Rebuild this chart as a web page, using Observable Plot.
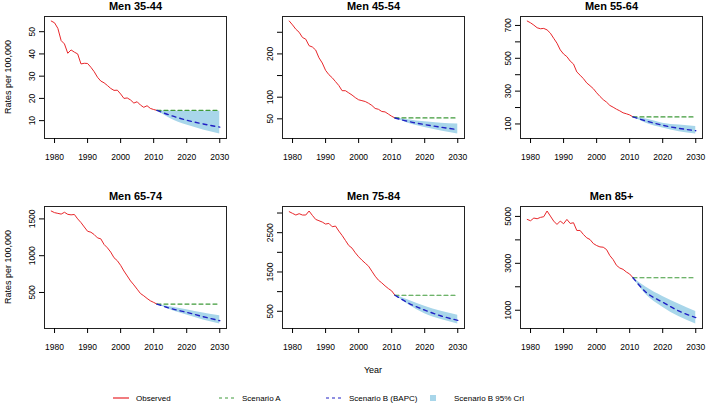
<!DOCTYPE html>
<html><head><meta charset="utf-8">
<script src="https://cdn.jsdelivr.net/npm/d3@7"></script>
<script src="https://cdn.jsdelivr.net/npm/@observablehq/plot@0.6"></script>
<style>
html,body{margin:0;padding:0;background:#fff;}
#root{position:relative;width:707px;height:408px;overflow:hidden;font-family:"Liberation Sans",Arial,Helvetica,sans-serif;color:#000;}
</style></head><body><div id="root"></div>
<script>
// ---------- data ----------
const titles = ["Men 35-44", "Men 45-54", "Men 55-64", "Men 65-74", "Men 75-84", "Men 85+"];
const obsYears = [1979,1980,1981,1982,1983,1984,1985,1986,1987,1988,1989,1990,1991,1992,1993,1994,1995,1996,1997,1998,1999,2000,2001,2002,2003,2004,2005,2006,2007,2008,2009,2010,2011];
const projYears = [2011, 2015, 2020, 2025, 2030];
const xTicks = [1980, 1990, 2000, 2010, 2020, 2030];
const legendLabels = ["Observed", "Scenario A", "Scenario B (BAPC)", "Scenario B 95% CrI"];

const obs3544 = [54.8,54.0,51.5,46.0,44.5,40.3,41.8,40.8,40.0,35.5,35.8,35.7,34.0,32.0,29.5,27.8,27.0,25.8,24.5,23.6,23.7,22.0,20.0,20.2,19.3,17.9,18.5,17.0,16.0,16.7,15.5,15.0,14.6];
const obs4554 = [276,267,257,250,238,234,219,216,209,191,179,162,152,145,136,127,115,115,110,105,99,94,92,90,86,81,74,72,67,66,61,56,52];
const obs5564 = [727,716,702,686,680,682,673,653,622,592,551,526,510,483,465,417,397,376,350,333,315,290,268,248,233,213,202,190,180,168,162,155,143];
const obs6574 = [1607,1585,1575,1565,1590,1562,1555,1560,1500,1450,1390,1332,1319,1287,1242,1229,1152,1107,1049,972,932,869,792,725,657,603,545,486,455,419,387,365,342];
const obs7584 = [3034,2991,2949,2983,2949,2949,3051,2940,2838,2804,2770,2719,2736,2651,2668,2541,2430,2303,2175,2107,1988,1886,1801,1724,1648,1520,1393,1291,1223,1146,1078,1019,908];
const obs85 = [4872,4815,4930,4901,4958,4987,5230,5015,4801,4658,4801,4687,4873,4701,4730,4401,4401,4230,4087,4015,3844,3758,3701,3687,3587,3329,3158,2915,2801,2743,2629,2543,2386];

const scenA = [14.6, 52, 143, 342, 908, 2386];

const mid3544 = [14.6, 12.4, 10.2, 8.5, 7.1];
const lo3544  = [14.6, 11.0, 8.0, 5.8, 4.0];
const hi3544  = [14.6, 14.3, 14.2, 14.2, 14.2];
const mid4554 = [52, 44, 36.7, 30.5, 25];
const lo4554  = [52, 40, 30, 22, 15];
const hi4554  = [52, 48, 43, 40, 38];
const mid5564 = [143, 118, 92, 73, 59];
const lo5564  = [143, 105, 75, 53, 39];
const hi5564  = [143, 130, 105, 93, 84];
const mid6574 = [342, 284, 230, 171, 117];
const lo6574  = [342, 265, 194, 125, 72];
const hi6574  = [342, 305, 266, 222, 185];
const mid7584 = [908, 712, 530, 380, 270];
const lo7584  = [908, 670, 440, 290, 177];
const hi7584  = [908, 790, 630, 500, 398];
const mid85   = [2386, 1760, 1343, 960, 686];
const lo85    = [2386, 1660, 1130, 720, 414];
const hi85    = [2386, 1980, 1586, 1250, 943];

const yTicks3544 = [10, 20, 30, 40, 50];   const yLabels3544 = [10, 20, 30, 40, 50];
const yTicks4554 = [50, 100, 150, 200, 250]; const yLabels4554 = [50, 100, 200];
const yTicks5564 = [100, 200, 300, 400, 500, 600, 700]; const yLabels5564 = [100, 300, 500, 700];
const yTicks6574 = [500, 1000, 1500];      const yLabels6574 = [500, 1000, 1500];
const yTicks7584 = [500, 1000, 1500, 2000, 2500, 3000]; const yLabels7584 = [500, 1500, 2500];
const yTicks85 = [1000, 2000, 3000, 4000, 5000]; const yLabels85 = [1000, 3000, 5000];

const panels = [
  {title: titles[0], obs: obs3544, a: scenA[0], mid: mid3544, lo: lo3544, hi: hi3544, yTicks: yTicks3544, yLabels: yLabels3544},
  {title: titles[1], obs: obs4554, a: scenA[1], mid: mid4554, lo: lo4554, hi: hi4554, yTicks: yTicks4554, yLabels: yLabels4554},
  {title: titles[2], obs: obs5564, a: scenA[2], mid: mid5564, lo: lo5564, hi: hi5564, yTicks: yTicks5564, yLabels: yLabels5564},
  {title: titles[3], obs: obs6574, a: scenA[3], mid: mid6574, lo: lo6574, hi: hi6574, yTicks: yTicks6574, yLabels: yLabels6574},
  {title: titles[4], obs: obs7584, a: scenA[4], mid: mid7584, lo: lo7584, hi: hi7584, yTicks: yTicks7584, yLabels: yLabels7584},
  {title: titles[5], obs: obs85,   a: scenA[5], mid: mid85,   lo: lo85,   hi: hi85,   yTicks: yTicks85,   yLabels: yLabels85}
];

// ---------- layout / style ----------
const root = document.getElementById("root");
const FONT = '"Liberation Sans", Arial, Helvetica, sans-serif';
const BOX_W = 182, BOX_H = 122, ML = 40, MR = 4, MT = 16, MB = 30;
const boxLeft = [44, 282, 520], boxTop = [16, 206];
const colors = {obs: "#e8262a", a: "#3f9a3a", b: "#2020c4", band: "#a8d6ea"};

panels.forEach((p, i) => {
  const col = i % 3, row = Math.floor(i / 3);
  const obsRows = obsYears.map((year, j) => ({year, v: p.obs[j]}));
  const projRows = projYears.map((year, j) => ({year, mid: p.mid[j], lo: p.lo[j], hi: p.hi[j]}));
  const aRows = [{year: projYears[0], v: p.a}, {year: projYears[projYears.length - 1], v: p.a}];
  const all = [...p.obs, ...p.lo, ...p.hi, p.a];
  const mn = d3.min(all), mx = d3.max(all), pad = 0.04 * (mx - mn);
  const x0 = obsYears[0], x1 = projYears[projYears.length - 1], xpad = 0.04 * (x1 - x0);
  const chart = Plot.plot({
    width: ML + BOX_W + MR, height: MT + BOX_H + MB,
    marginLeft: ML, marginRight: MR, marginTop: MT, marginBottom: MB,
    x: {domain: [x0 - xpad, x1 + xpad]},
    y: {domain: [mn - pad, mx + pad]},
    style: {fontFamily: FONT, fontSize: "8.5px", color: "#000", background: "transparent", overflow: "visible"},
    marks: [
      Plot.areaY(projRows, {x: "year", y1: "lo", y2: "hi", fill: colors.band, curve: "monotone-x"}),
      Plot.lineY(obsRows, {x: "year", y: "v", stroke: colors.obs, strokeWidth: 1}),
      Plot.lineY(aRows, {x: "year", y: "v", stroke: colors.a, strokeWidth: 1.2, strokeDasharray: "4,3"}),
      Plot.lineY(projRows, {x: "year", y: "mid", stroke: colors.b, strokeWidth: 1.4, strokeDasharray: "4,4", curve: "monotone-x"}),
      Plot.frame({stroke: "#222"}),
      Plot.axisX({ticks: xTicks, tickSize: 5, tickPadding: 10, tickFormat: d => String(d), label: null}),
      Plot.axisY({ticks: p.yTicks, tickSize: 5, tickPadding: 5, tickRotate: -90,
                  tickFormat: d => p.yLabels.includes(d) ? String(d) : "", label: null}),
      Plot.text([p.title], {frameAnchor: "top", dy: -10, text: d => d, fontWeight: "bold", fontSize: 11, lineAnchor: "middle"})
    ]
  });
  chart.style.position = "absolute";
  chart.style.left = (boxLeft[col] - ML) + "px";
  chart.style.top = (boxTop[row] - MT) + "px";
  root.appendChild(chart);
});

// ---------- shared labels and legend ----------
const ov = d3.select(root).append("svg")
  .attr("width", 707).attr("height", 408)
  .style("position", "absolute").style("left", "0px").style("top", "0px")
  .style("font-family", FONT);

[77, 267].forEach(cy => {
  ov.append("text").attr("transform", `translate(8,${cy}) rotate(-90)`)
    .attr("text-anchor", "middle").attr("dominant-baseline", "central")
    .attr("font-size", 9).attr("fill", "#000").text("Rates per 100,000");
});
ov.append("text").attr("x", 373).attr("y", 370).attr("text-anchor", "middle")
  .attr("dominant-baseline", "central").attr("font-size", 9).attr("fill", "#000").text("Year");

const legY = 398;
const legX = [113, 219, 326, 430];
const legStyle = [
  {stroke: colors.obs, dash: null, w: 1.2},
  {stroke: colors.a, dash: "3,3", w: 1},
  {stroke: colors.b, dash: "3,3", w: 1},
  null
];
legendLabels.forEach((lab, k) => {
  const s = legStyle[k];
  if (s) {
    ov.append("line").attr("x1", legX[k]).attr("x2", legX[k] + 16).attr("y1", legY).attr("y2", legY)
      .attr("stroke", s.stroke).attr("stroke-width", s.w).attr("stroke-dasharray", s.dash);
    ov.append("text").attr("x", legX[k] + 23).attr("y", legY).attr("dominant-baseline", "central")
      .attr("font-size", 8).attr("fill", "#000").text(lab);
  } else {
    ov.append("rect").attr("x", legX[k]).attr("y", legY - 3).attr("width", 6).attr("height", 6).attr("fill", colors.band);
    ov.append("text").attr("x", legX[k] + 24).attr("y", legY).attr("dominant-baseline", "central")
      .attr("font-size", 8).attr("fill", "#000").text(lab);
  }
});
</script>
</body></html>
